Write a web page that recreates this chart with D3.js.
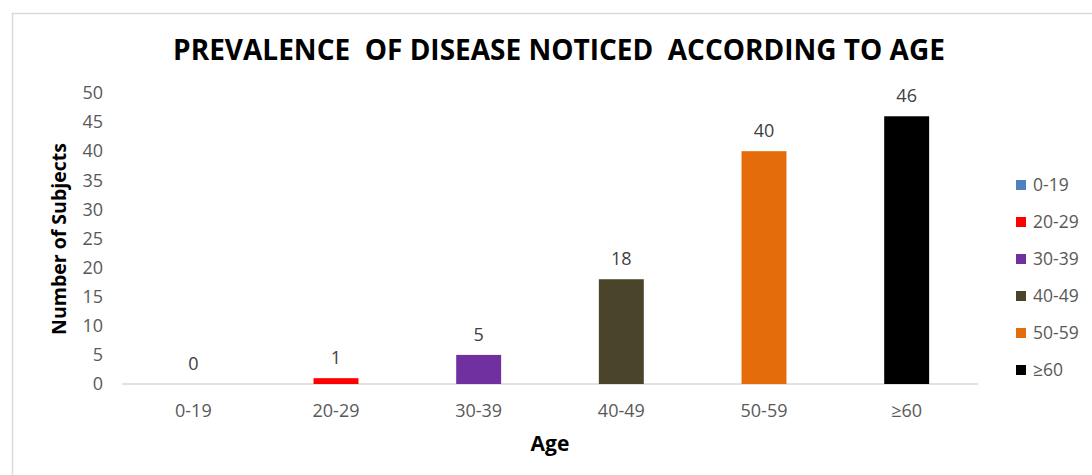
<!DOCTYPE html>
<html>
<head>
<meta charset="utf-8">
<script src="https://cdn.jsdelivr.net/npm/d3@7"></script>
<style>
  html, body { margin: 0; padding: 0; background: #fff; }
  svg { display: block; }
  text { font-family: "Open Sans", "Noto Sans", sans-serif; }
</style>
</head>
<body>
<svg id="chart" width="1092" height="475"></svg>
<script>
const categories = ["0-19", "20-29", "30-39", "40-49", "50-59", "\u226560"];
const subjects = [0, 1, 5, 18, 40, 46];
const colors = ["#4f81bd", "#ff0000", "#7030a0", "#4a452a", "#e46c0a", "#000000"];
const yTicks = [0, 5, 10, 15, 20, 25, 30, 35, 40, 45, 50];

const svg = d3.select("#chart");
const W = 1092, H = 475;
const plot = { left: 122, right: 978, top: 93, bottom: 384 };

// chart frame
svg.append("rect")
  .attr("x", 12.5).attr("y", 13.5)
  .attr("width", W).attr("height", H)
  .attr("fill", "#fff").attr("stroke", "#d9d9d9").attr("stroke-width", 1.5);

const x = d3.scaleBand().domain(categories)
  .range([plot.left, plot.right]).paddingInner(0.685).paddingOuter(0.3425);
const y = d3.scaleLinear().domain([0, 50]).range([plot.bottom, plot.top]);

// title
svg.append("text")
  .attr("x", 559).attr("y", 60)
  .attr("text-anchor", "middle")
  .attr("font-size", 28).attr("font-weight", "bold").attr("fill", "#000")
  .attr("xml:space", "preserve")
  .text("PREVALENCE  OF DISEASE NOTICED  ACCORDING TO AGE");

// y axis (labels only)
const yAxis = svg.append("g")
  .attr("transform", `translate(${plot.left},0)`)
  .call(d3.axisLeft(y).tickValues(yTicks).tickSize(0).tickPadding(19));
yAxis.select(".domain").remove();
yAxis.selectAll("text")
  .attr("font-size", 18).attr("fill", "#595959")
  .style("font-family", "'Open Sans', sans-serif");

// x axis
const xAxis = svg.append("g")
  .attr("transform", `translate(0,${plot.bottom})`)
  .call(d3.axisBottom(x).tickSize(0).tickPadding(20));
xAxis.select(".domain").attr("stroke", "#d9d9d9").attr("stroke-width", 1.5)
  .attr("d", `M${plot.left},0H${plot.right}`);
xAxis.selectAll("text")
  .attr("font-size", 18).attr("fill", "#595959")
  .style("font-family", "'Open Sans', sans-serif");

// bars
svg.append("g").selectAll("rect")
  .data(categories)
  .join("rect")
  .attr("x", d => x(d))
  .attr("width", x.bandwidth())
  .attr("y", (d, i) => y(subjects[i]))
  .attr("height", (d, i) => y(0) - y(subjects[i]))
  .attr("fill", (d, i) => colors[i]);

// value labels
svg.append("g").selectAll("text")
  .data(categories)
  .join("text")
  .attr("x", d => x(d) + x.bandwidth() / 2)
  .attr("y", (d, i) => y(subjects[i]) - 14)
  .attr("text-anchor", "middle")
  .attr("font-size", 18).attr("fill", "#404040")
  .text((d, i) => subjects[i]);

// axis titles
svg.append("text")
  .attr("x", 550).attr("y", 451)
  .attr("text-anchor", "middle")
  .attr("font-size", 21).attr("font-weight", "bold").attr("fill", "#000")
  .text("Age");

svg.append("text")
  .attr("transform", "translate(66,239) rotate(-90)")
  .attr("text-anchor", "middle")
  .attr("font-size", 19.5).attr("font-weight", "bold").attr("fill", "#000")
  .text("Number of Subjects");

// legend
const legend = svg.append("g").selectAll("g")
  .data(categories)
  .join("g")
  .attr("transform", (d, i) => `translate(1016,${185 + i * 37})`);
legend.append("rect")
  .attr("x", 0).attr("y", -5).attr("width", 10).attr("height", 10)
  .attr("fill", (d, i) => colors[i]);
legend.append("text")
  .attr("x", 17).attr("y", 0).attr("dy", "0.35em")
  .attr("font-size", 17.5).attr("fill", "#595959")
  .text(d => d);
</script>
</body>
</html>
